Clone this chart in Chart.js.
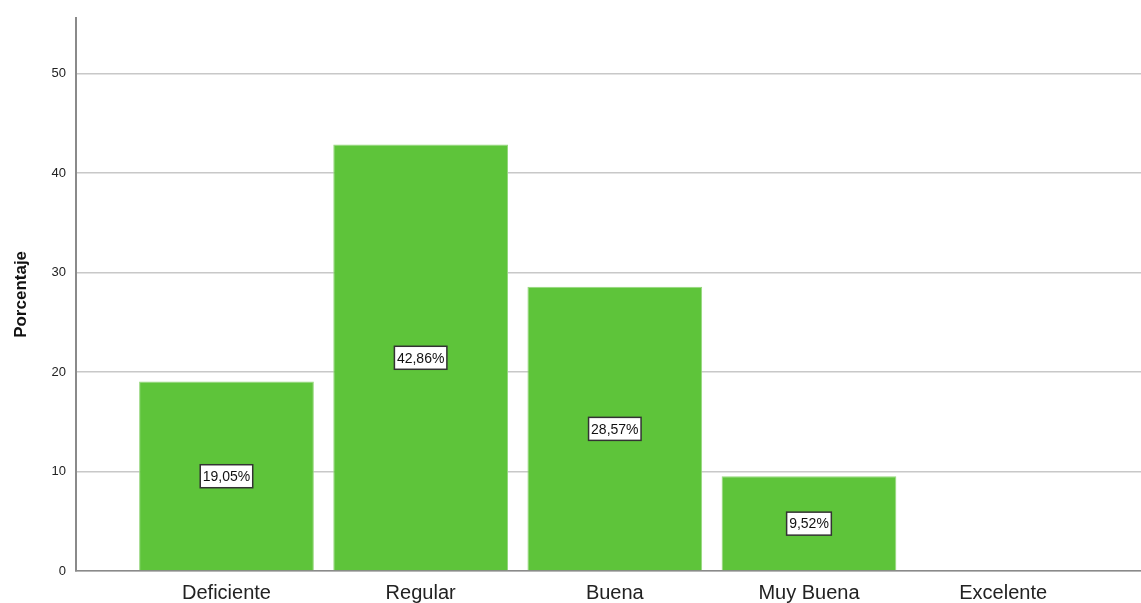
<!DOCTYPE html>
<html>
<head>
<meta charset="utf-8">
<script src="https://cdn.jsdelivr.net/npm/chart.js@4"></script>
<style>
	html, body { margin: 0; padding: 0; background: #fff; }
	#wrap { width: 1141px; height: 603px; position: relative; }
</style>
</head>
<body>
<div id="wrap"><canvas id="barChart" width="1141" height="603"></canvas></div>
<script>
const categories = ['Deficiente', 'Regular', 'Buena', 'Muy Buena', 'Excelente'];
const percentages = [19.05, 42.86, 28.57, 9.52, 0];
const yTicks = [0, 10, 20, 30, 40, 50];

// boxed percentage labels in the middle of each bar
const boxLabels = {
	id: 'boxLabels',
	afterDatasetsDraw(chart) {
		const c = chart.ctx;
		const meta = chart.getDatasetMeta(0);
		c.save();
		c.font = '14px "Liberation Sans", Arial, sans-serif';
		c.textAlign = 'center';
		c.textBaseline = 'middle';
		meta.data.forEach((bar, i) => {
			const v = percentages[i];
			if (!v) return;
			const txt = v.toFixed(2).replace('.', ',') + '%';
			const yMid = chart.scales.y.getPixelForValue(v / 2);
			const w = c.measureText(txt).width + 5;
			const h = 23;
			c.fillStyle = '#fff';
			c.fillRect(bar.x - w / 2, yMid - h / 2, w, h);
			c.strokeStyle = '#333';
			c.lineWidth = 1.5;
			c.strokeRect(bar.x - w / 2, yMid - h / 2, w, h);
			c.fillStyle = '#111';
			c.fillText(txt, bar.x, yMid + 1);
		});
		c.restore();
	}
};

const ctx = document.getElementById('barChart').getContext('2d');
const barChart = new Chart(ctx, {
	type: 'bar',
	data: {
		datasets: [{
			data: percentages.map((p, i) => ({ x: i, y: p })),
			backgroundColor: 'rgb(94, 196, 58)',
			borderColor: 'rgb(150, 215, 125)',
			borderWidth: 1,
			categoryPercentage: 1,
			barPercentage: 0.9
		}]
	},
	plugins: [boxLabels],
	options: {
		responsive: false,
		animation: false,
		layout: { padding: { top: 13, right: 0, left: 0, bottom: 0 } },
		plugins: {
			legend: { display: false },
			tooltip: { enabled: false }
		},
		scales: {
			x: {
				type: 'linear',
				offset: false,
				min: -0.775,
				max: 4.71,
				afterBuildTicks: (scale) => { scale.ticks = categories.map((c, i) => ({ value: i })); },
				afterFit: (scale) => { scale.height = 32; },
				grid: { display: false, drawTicks: false },
				border: { color: '#8a8a8a', width: 1.5 },
				ticks: {
					callback: (v) => categories[v],
					color: '#222',
					padding: 10,
					maxRotation: 0,
					font: { family: '"Liberation Sans", Arial, sans-serif', size: 20 }
				}
			},
			y: {
				min: 0,
				max: 55.6,
				afterBuildTicks: (scale) => { scale.ticks = yTicks.map(v => ({ value: v })); },
				afterFit: (scale) => { scale.width = 76; },
				grid: { color: '#c8c8c8', lineWidth: 1.5, drawTicks: false },
				border: { color: '#8a8a8a', width: 2 },
				ticks: {
					color: '#222',
					padding: 10,
					font: { family: '"Liberation Sans", Arial, sans-serif', size: 13 }
				},
				title: {
					display: true,
					text: 'Porcentaje',
					color: '#111',
					padding: { top: 11, bottom: 4 },
					font: { family: '"Liberation Sans", Arial, sans-serif', size: 17, weight: 'bold' }
				}
			}
		}
	}
});
</script>
</body>
</html>
